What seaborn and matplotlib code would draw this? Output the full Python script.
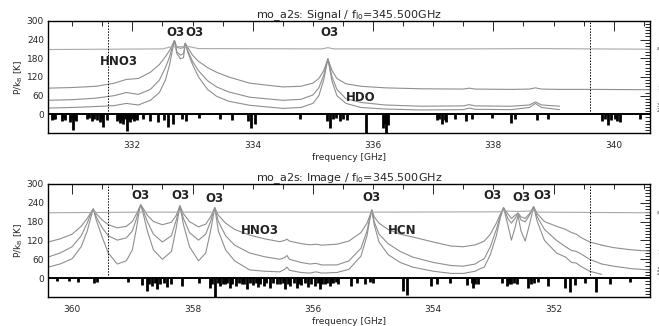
import matplotlib
matplotlib.use("Agg")
import matplotlib.pyplot as plt
from matplotlib.ticker import MultipleLocator
import seaborn as sns

# ---- signal sideband (upper panel) ----
sig_freq = [330.6, 331.0, 331.4, 331.7, 331.9, 332.1, 332.3, 332.45, 332.55, 332.62,
            332.67, 332.7, 332.74, 332.8, 332.85, 332.88, 332.92, 333.0, 333.1, 333.25,
            333.4, 333.6, 333.95, 334.5, 334.8, 335.0, 335.1, 335.18, 335.25, 335.32,
            335.4, 335.55, 335.8, 336.2, 336.8, 337.5, 337.6, 337.7, 338.3, 338.6,
            338.7, 338.8, 339.1]
sig_c1 = [84, 86, 90, 100, 112, 115, 135, 160, 185, 205,
          225, 237, 215, 212, 214, 228, 215, 190, 170, 150,
          135, 120, 100, 88, 90, 100, 115, 140, 178, 140,
          115, 98, 90, 85, 82, 81, 84, 81, 80, 81,
          85, 81, 80]
sig_c2 = [45, 47, 52, 60, 70, 64, 80, 110, 150, 185,
          220, 237, 200, 190, 195, 228, 205, 170, 140, 108,
          88, 72, 55, 45, 48, 62, 85, 125, 178, 120,
          80, 50, 38, 30, 26, 27, 31, 27, 26, 30,
          40, 30, 26]
sig_c3 = [20, 22, 25, 28, 35, 30, 45, 70, 110, 160,
          210, 237, 195, 178, 182, 228, 200, 160, 120, 80,
          58, 42, 29, 19, 22, 35, 60, 110, 178, 105,
          60, 35, 22, 17, 14, 15, 20, 16, 15, 22,
          35, 22, 15]
sig_tail_freq = [339.1, 339.6, 340.6]
sig_c1_tail = [80, 80, 79]
sig_flat_freq = [330.6, 332.5, 332.65, 332.95, 333.1, 335.15, 335.25, 335.35, 337.6, 338.7, 340.6]
sig_flat = [208, 210, 217, 217, 211, 210, 214, 210, 210, 211, 209]
sig_stick_freq = [330.66, 330.7, 330.72, 330.83, 330.86, 330.88, 330.97, 331.0, 331.02, 331.05,
                  331.07, 331.25, 331.28, 331.33, 331.37, 331.41, 331.46, 331.49, 331.52, 331.58,
                  331.74, 331.77, 331.8, 331.82, 331.85, 331.88, 331.91, 331.94, 331.96, 331.99,
                  332.02, 332.05, 332.08, 332.18, 332.29, 332.43, 332.52, 332.6, 332.68, 332.82,
                  332.9, 333.1, 333.46, 333.65, 333.93, 333.98, 334.04, 334.79, 335.23, 335.28,
                  335.34, 335.38, 335.45, 335.5, 335.56, 335.89, 336.17, 336.2, 336.22, 336.25,
                  337.06, 337.1, 337.14, 337.19, 337.22, 337.36, 337.55, 337.64, 337.97, 338.3,
                  338.36, 338.72, 338.91, 339.8, 339.85, 339.91, 339.95, 340.02, 340.06, 340.1,
                  340.43]
sig_stick_depth = [18, 15, 15, 20, 12, 18, 25, 15, 50, 18,
                   22, 15, 12, 20, 15, 18, 25, 15, 40, 18,
                   22, 15, 28, 18, 30, 15, 55, 18, 25, 15,
                   22, 15, 18, 15, 20, 25, 18, 40, 30, 15,
                   20, 12, 15, 18, 22, 45, 30, 15, 20, 45,
                   15, 12, 20, 15, 18, 60, 45, 30, 60, 35,
                   18, 15, 30, 18, 25, 15, 20, 15, 12, 28,
                   15, 18, 15, 20, 15, 35, 18, 15, 20, 25,
                   15]
sig_labels = [("HNO3", 331.78, 170), ("O3", 332.72, 262), ("O3", 333.03, 262),
              ("O3", 335.28, 262), ("HDO", 335.8, 55)]

# ---- image sideband (lower panel) ----
img_freq = [360.4, 360.2, 360.0, 359.85, 359.75, 359.68, 359.65, 359.6, 359.5, 359.4,
            359.25, 359.1, 359.0, 358.93, 358.88, 358.86, 358.82, 358.75, 358.65, 358.5,
            358.35, 358.27, 358.21, 358.15, 358.05, 357.9, 357.78, 357.7, 357.63, 357.57,
            357.45, 357.3, 357.05, 356.8, 356.55, 356.47, 356.43, 356.39, 356.2, 356.05,
            355.95, 355.85, 355.6, 355.4, 355.2, 355.1, 355.05, 355.02, 354.98, 354.9,
            354.75, 354.55, 354.34, 354.0, 353.7, 353.5, 353.3, 353.22, 353.15, 353.05,
            352.95, 352.88, 352.83, 352.76, 352.7, 352.64, 352.59, 352.54, 352.47, 352.4,
            352.33, 352.27, 352.15, 351.95, 351.8, 351.7, 351.62, 351.55, 351.4, 351.2]
img_c1 = [115, 125, 140, 165, 190, 212, 220, 205, 185, 170,
          160, 165, 180, 205, 225, 233, 222, 200, 180, 170,
          178, 200, 230, 205, 180, 163, 172, 195, 224, 200,
          175, 155, 137, 125, 116, 120, 124, 118, 110, 106,
          108, 105, 108, 118, 145, 175, 200, 217, 195, 175,
          155, 140, 131, 115, 102, 100, 106, 112, 118, 140,
          175, 205, 224, 205, 190, 200, 207, 195, 190, 205,
          227, 205, 180, 165, 155, 145, 140, 130, 115, 105]
img_c2 = [67, 80, 100, 135, 175, 210, 220, 195, 160, 135,
          121, 128, 150, 190, 225, 233, 215, 180, 140, 115,
          135, 185, 230, 190, 145, 121, 140, 180, 224, 180,
          135, 105, 80, 68, 60, 65, 72, 60, 50, 45,
          47, 42, 42, 55, 95, 150, 195, 217, 180, 140,
          110, 85, 67, 50, 40, 38, 45, 55, 62, 100,
          155, 200, 224, 190, 175, 190, 207, 185, 179, 200,
          227, 195, 155, 120, 100, 88, 85, 78, 60, 45]
img_c3 = [35, 45, 62, 100, 150, 200, 220, 185, 130, 80,
          45, 55, 90, 160, 220, 233, 205, 150, 90, 60,
          85, 160, 230, 170, 100, 55, 80, 150, 224, 150,
          90, 55, 26, 22, 20, 28, 35, 25, 18, 16,
          20, 16, 18, 28, 70, 135, 190, 217, 170, 115,
          75, 50, 35, 22, 15, 15, 22, 30, 35, 75,
          135, 195, 224, 170, 121, 160, 200, 150, 118, 170,
          227, 180, 120, 80, 67, 50, 48, 38, 22, 12]
img_tail_freq = [351.2, 351.0, 350.7, 350.4]
img_c1_tail = [105, 97, 90, 86]
img_c2_tail = [45, 38, 30, 26]
img_flat_freq = [360.4, 359.7, 359.65, 359.6, 358.86, 358.21, 357.63, 355.02, 352.9, 352.83,
                 352.59, 352.33, 352.25, 350.4]
img_flat = [208, 209, 212, 209, 210, 210, 210, 210, 211, 214, 212, 214, 210, 208]
img_stick_freq = [360.26, 360.06, 359.9, 359.64, 359.59, 359.07, 358.84, 358.76, 358.72, 358.68,
                  358.63, 358.59, 358.54, 358.48, 358.43, 358.35, 358.18, 357.9, 357.71, 357.67,
                  357.63, 357.58, 357.54, 357.5, 357.46, 357.42, 357.38, 357.34, 357.27, 357.23,
                  357.18, 357.14, 357.1, 357.05, 356.99, 356.95, 356.91, 356.87, 356.82, 356.78,
                  356.71, 356.66, 356.6, 356.55, 356.5, 356.46, 356.42, 356.38, 356.32, 356.27,
                  356.23, 356.19, 356.13, 356.08, 356.03, 355.96, 355.92, 355.88, 355.84, 355.8,
                  355.76, 355.72, 355.69, 355.66, 355.62, 355.58, 355.36, 355.27, 355.13, 355.05,
                  355.0, 354.5, 354.44, 354.03, 353.94, 353.72, 353.44, 353.36, 353.33, 353.3,
                  353.25, 352.86, 352.78, 352.74, 352.7, 352.65, 352.61, 352.42, 352.38, 352.33,
                  352.25, 352.09, 351.81, 351.73, 351.65, 351.48, 351.29, 351.06, 350.73]
img_stick_depth = [10, 10, 12, 15, 12, 12, 22, 40, 18, 25,
                   15, 35, 20, 15, 28, 18, 25, 15, 30, 18,
                   60, 15, 25, 18, 20, 15, 30, 18, 25, 15,
                   20, 18, 35, 15, 22, 15, 28, 18, 25, 15,
                   30, 15, 20, 18, 15, 35, 18, 25, 15, 30,
                   18, 22, 15, 28, 18, 25, 15, 35, 18, 20,
                   15, 25, 15, 15, 12, 20, 25, 15, 20, 12,
                   15, 40, 55, 25, 18, 15, 22, 15, 30, 18,
                   20, 15, 25, 18, 18, 15, 20, 30, 18, 15,
                   12, 25, 30, 45, 22, 15, 45, 20, 12]
img_labels = [("O3", 358.86, 262), ("O3", 358.2, 262), ("O3", 357.63, 255),
              ("HNO3", 356.88, 153), ("O3", 355.02, 258), ("HCN", 354.52, 153),
              ("O3", 353.01, 262), ("O3", 352.53, 258), ("O3", 352.19, 262)]

sns.set_style("white")
plt.rcParams["font.family"] = ["DejaVu Sans"]

fig = plt.figure(figsize=(6.59, 3.26), dpi=100)
ax_sig = fig.add_axes([0.073, 0.592, 0.913, 0.344])
ax_img = fig.add_axes([0.073, 0.089, 0.913, 0.347])

CURVE = "#8f8f8f"
FLAT = "#a8a8a8"


def draw_panel(ax, freq, curves, tails, flat_freq, flat, sticks, depths, labels,
               xlim, band, title):
    for vals in curves:
        sns.lineplot(x=freq, y=vals, ax=ax, color=CURVE, lw=0.8, estimator=None)
    for tf, tv in tails:
        sns.lineplot(x=tf, y=tv, ax=ax, color=CURVE, lw=0.8, estimator=None)
    sns.lineplot(x=flat_freq, y=flat, ax=ax, color=FLAT, lw=0.8, estimator=None)
    ax.vlines(sticks, [-d for d in depths], 0, color="black", lw=2.0)
    ax.axhline(0, color="black", lw=1.4)
    ax.vlines(band, 0, 300, color="black", lw=0.7, linestyles=(0, (1.5, 1.5)))
    for txt, f, v in labels:
        ax.text(f, v, txt, ha="center", va="center", fontsize=8.5,
                fontweight="bold", color="#222222")
    # tiny side annotations on the right frame
    tr = ax.get_yaxis_transform()
    ax.text(1.012, 210, "a", transform=tr, fontsize=3.5, va="center", ha="left")
    ax.text(1.012, 82, "1", transform=tr, fontsize=3.5, va="center", ha="left")
    ax.text(1.012, 20, "3\n2", transform=tr, fontsize=3.5, va="center", ha="left",
            linespacing=0.8)
    ax.set_xlim(*xlim)
    ax.set_ylim(-60, 300)
    ax.set_yticks([0, 60, 120, 180, 240, 300])
    ax.yaxis.set_minor_locator(MultipleLocator(10))
    ax.xaxis.set_major_locator(MultipleLocator(2))
    ax.xaxis.set_minor_locator(MultipleLocator(0.5))
    ax.tick_params(which="both", direction="in", top=True, right=True,
                   labelsize=6.5, width=0.7)
    ax.tick_params(axis="x", pad=6)
    ax.tick_params(axis="y", pad=3)
    ax.tick_params(which="major", length=7)
    ax.tick_params(which="minor", length=3.5)
    for s in ax.spines.values():
        s.set_linewidth(1.0)
        s.set_color("black")
    ax.set_title(title, fontsize=8, pad=2)
    ax.set_xlabel("frequency [GHz]", fontsize=6.5, labelpad=2)
    ax.set_ylabel("P/k$_{\\rm B}$ [K]", fontsize=6.5, labelpad=1)


draw_panel(ax_sig, sig_freq, [sig_c1, sig_c2, sig_c3],
           [(sig_tail_freq, sig_c1_tail)], sig_flat_freq, sig_flat,
           sig_stick_freq, sig_stick_depth, sig_labels,
           (330.6, 340.6), [331.6, 339.6],
           "mo_a2s: Signal / f$_{\\rm lo}$=345.500GHz")
draw_panel(ax_img, img_freq, [img_c1, img_c2, img_c3],
           [(img_tail_freq, img_c1_tail), (img_tail_freq, img_c2_tail)],
           img_flat_freq, img_flat,
           img_stick_freq, img_stick_depth, img_labels,
           (360.4, 350.4), [359.4, 351.4],
           "mo_a2s: Image / f$_{\\rm lo}$=345.500GHz")

fig.savefig("out.png", dpi=100)
